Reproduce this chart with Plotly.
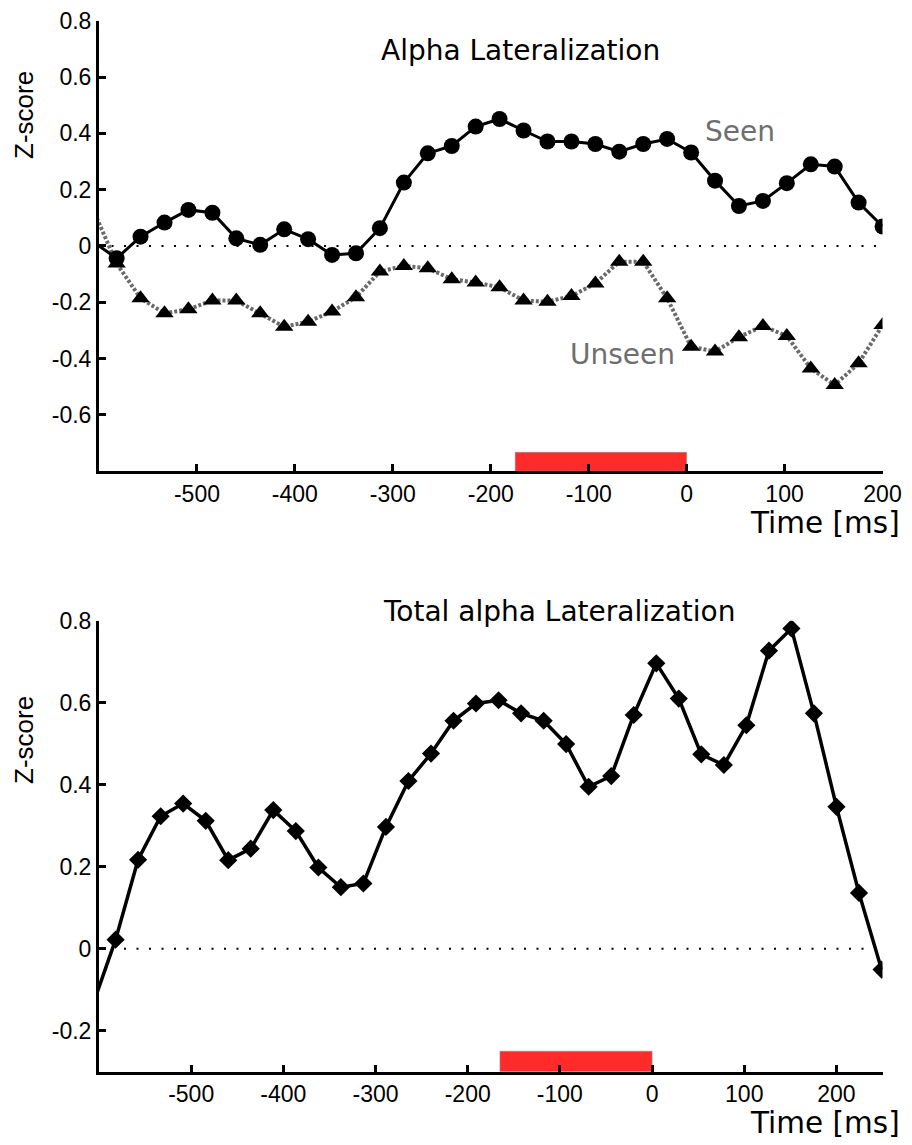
import plotly.graph_objects as go

# ---------------- data ----------------
# time axis (ms); first entry lies just left of the visible range (line enters from the edge)
time_ms = [-606.4, -582.0, -557.6, -533.1, -508.7, -484.2, -459.8, -435.4, -410.9, -386.5,
           -362.0, -337.6, -313.2, -288.7, -264.3, -239.8, -215.4, -191.0, -166.5, -142.1,
           -117.6, -93.2, -68.8, -44.3, -19.9, 4.6, 29.0, 53.4, 77.9, 102.3,
           126.8, 151.2, 175.6, 200.1, 224.5, 249.0]

seen = [0.016, -0.044, 0.033, 0.083, 0.128, 0.118, 0.027, 0.004, 0.059, 0.024,
        -0.032, -0.026, 0.063, 0.225, 0.329, 0.355, 0.424, 0.451, 0.410, 0.371,
        0.371, 0.362, 0.335, 0.362, 0.380, 0.332, 0.232, 0.142, 0.160, 0.223,
        0.290, 0.282, 0.154, 0.069]

unseen = [0.132, -0.062, -0.186, -0.239, -0.225, -0.194, -0.194, -0.239, -0.287, -0.269,
          -0.233, -0.182, -0.091, -0.071, -0.079, -0.118, -0.130, -0.147, -0.194, -0.198,
          -0.178, -0.133, -0.056, -0.056, -0.186, -0.358, -0.375, -0.324, -0.284, -0.320,
          -0.435, -0.494, -0.417, -0.281]

total = [-0.135, 0.022, 0.217, 0.323, 0.354, 0.312, 0.216, 0.244, 0.338, 0.287,
         0.198, 0.150, 0.159, 0.297, 0.409, 0.476, 0.556, 0.598, 0.606, 0.574,
         0.556, 0.499, 0.395, 0.421, 0.570, 0.696, 0.610, 0.474, 0.448, 0.545,
         0.727, 0.781, 0.574, 0.346, 0.136, -0.051]

x_tickvals = [-500, -400, -300, -200, -100, 0, 100, 200]
x_ticktext = ["-500", "-400", "-300", "-200", "-100", "0", "100", "200"]
y1_tickvals = [0.8, 0.6, 0.4, 0.2, 0, -0.2, -0.4, -0.6]
y1_ticktext = ["0.8", "0.6", "0.4", "0.2", "0", "-0.2", "-0.4", "-0.6"]
y2_tickvals = [0.8, 0.6, 0.4, 0.2, 0, -0.2]
y2_ticktext = ["0.8", "0.6", "0.4", "0.2", "0", "-0.2"]

stim_top = [-175, 0]      # red bar (ms)
stim_bottom = [-165, 0]

# ---------------- layout helpers ----------------
W, H = 912, 1145
def px(x):
    return x / W
def py(y):
    return 1 - y / H

n_top = len(seen)
n_bot = len(total)

fig = go.Figure()

fig.add_trace(go.Scatter(
    x=time_ms[:n_top], y=unseen, mode="lines+markers",
    line=dict(color="#6a6a6a", width=4, dash="3px,2px"),
    marker=dict(symbol="triangle-up", size=[0] + [16] * (n_top - 1), color="black",
                opacity=1, line=dict(width=0)),
    xaxis="x", yaxis="y", showlegend=False, hoverinfo="skip"))

fig.add_trace(go.Scatter(
    x=time_ms[:n_top], y=seen, mode="lines+markers",
    line=dict(color="black", width=3),
    marker=dict(symbol="circle", size=[0] + [16] * (n_top - 1), color="black",
                opacity=1, line=dict(width=0)),
    xaxis="x", yaxis="y", showlegend=False, hoverinfo="skip"))

fig.add_trace(go.Scatter(
    x=time_ms[:n_bot], y=total, mode="lines+markers",
    line=dict(color="black", width=3.5),
    marker=dict(symbol="diamond", size=[0] + [14] * (n_bot - 1), color="black",
                opacity=1, line=dict(width=0)),
    xaxis="x2", yaxis="y2", showlegend=False, hoverinfo="skip"))

xdom = [px(99.0), px(882.5)]
tickfont = dict(family="Liberation Sans, Arial", size=23, color="black")
common_axis = dict(showline=True, linecolor="black", linewidth=3, ticks="inside",
                   ticklen=7, tickwidth=2.5, tickcolor="black", showgrid=False,
                   zeroline=False, tickfont=tickfont, fixedrange=True, automargin=False)

fig.update_layout(
    template="none",
    width=W, height=H,
    margin=dict(l=0, r=0, t=0, b=0, pad=0),
    paper_bgcolor="white", plot_bgcolor="white",
    xaxis=dict(domain=xdom, range=[-600, 200], anchor="y",
               tickvals=x_tickvals, ticktext=x_ticktext, **common_axis),
    yaxis=dict(domain=[py(471.2), py(20.7)], range=[-0.8, 0.8], anchor="x",
               tickvals=y1_tickvals, ticktext=y1_ticktext, **common_axis),
    xaxis2=dict(domain=xdom, range=[-600, 250], anchor="y2",
                tickvals=x_tickvals, ticktext=x_ticktext, **common_axis),
    yaxis2=dict(domain=[py(1071.7), py(620.7)], range=[-0.3, 0.8], anchor="x2",
                tickvals=y2_tickvals, ticktext=y2_ticktext, **common_axis),
)

# zero reference lines
for xr, yr in (("x", "y"), ("x2", "y2")):
    fig.add_shape(type="line", xref=f"{xr} domain", yref=yr, x0=0, x1=1, y0=0, y1=0,
                  line=dict(color="black", width=2, dash="2px,10.5px"), layer="below")

# stimulus bars
fig.add_shape(type="rect", xref="x", yref="y", x0=stim_top[0], x1=stim_top[1], y0=-0.8, y1=-0.733,
              fillcolor="#ff2b2b", line=dict(color="rgba(140,140,140,0.6)", width=1), layer="below")
fig.add_shape(type="rect", xref="x2", yref="y2", x0=stim_bottom[0], x1=stim_bottom[1], y0=-0.3, y1=-0.25,
              fillcolor="#ff2b2b", line=dict(color="rgba(140,140,140,0.6)", width=1), layer="below")

verd = "DejaVu Sans, Verdana"
ann = []
ann.append(dict(text="Alpha Lateralization", x=px(520.7), y=py(50.5), xref="paper", yref="paper",
                xanchor="center", yanchor="middle", showarrow=False,
                font=dict(family=verd, size=28, color="black")))
ann.append(dict(text="Total alpha Lateralization", x=px(559.7), y=py(611.5), xref="paper", yref="paper",
                xanchor="center", yanchor="middle", showarrow=False,
                font=dict(family=verd, size=28, color="black")))
ann.append(dict(text="Seen", x=17, y=0.405, xref="x", yref="y", xanchor="left", yanchor="middle",
                showarrow=False, font=dict(family=verd, size=28, color="#6e6e6e")))
ann.append(dict(text="Unseen", x=-10, y=-0.384, xref="x", yref="y", xanchor="right", yanchor="middle",
                showarrow=False, font=dict(family=verd, size=28, color="#6e6e6e")))
for yc in (522.5, 1123):
    ann.append(dict(text="Time [ms]", x=px(902), y=py(yc), xref="paper", yref="paper",
                    xanchor="right", yanchor="middle", showarrow=False,
                    font=dict(family=verd, size=29.5, color="black")))
for yc in (115, 740):
    ann.append(dict(text="Z-score", x=px(24), y=py(yc), xref="paper", yref="paper",
                    xanchor="center", yanchor="middle", textangle=-90, showarrow=False,
                    font=dict(family="Liberation Sans, Arial", size=26, color="black")))
fig.update_layout(annotations=ann)

fig.write_html("out.html", config={"displayModeBar": False},
               post_script="document.body.style.margin='0';document.body.style.overflow='hidden';")
